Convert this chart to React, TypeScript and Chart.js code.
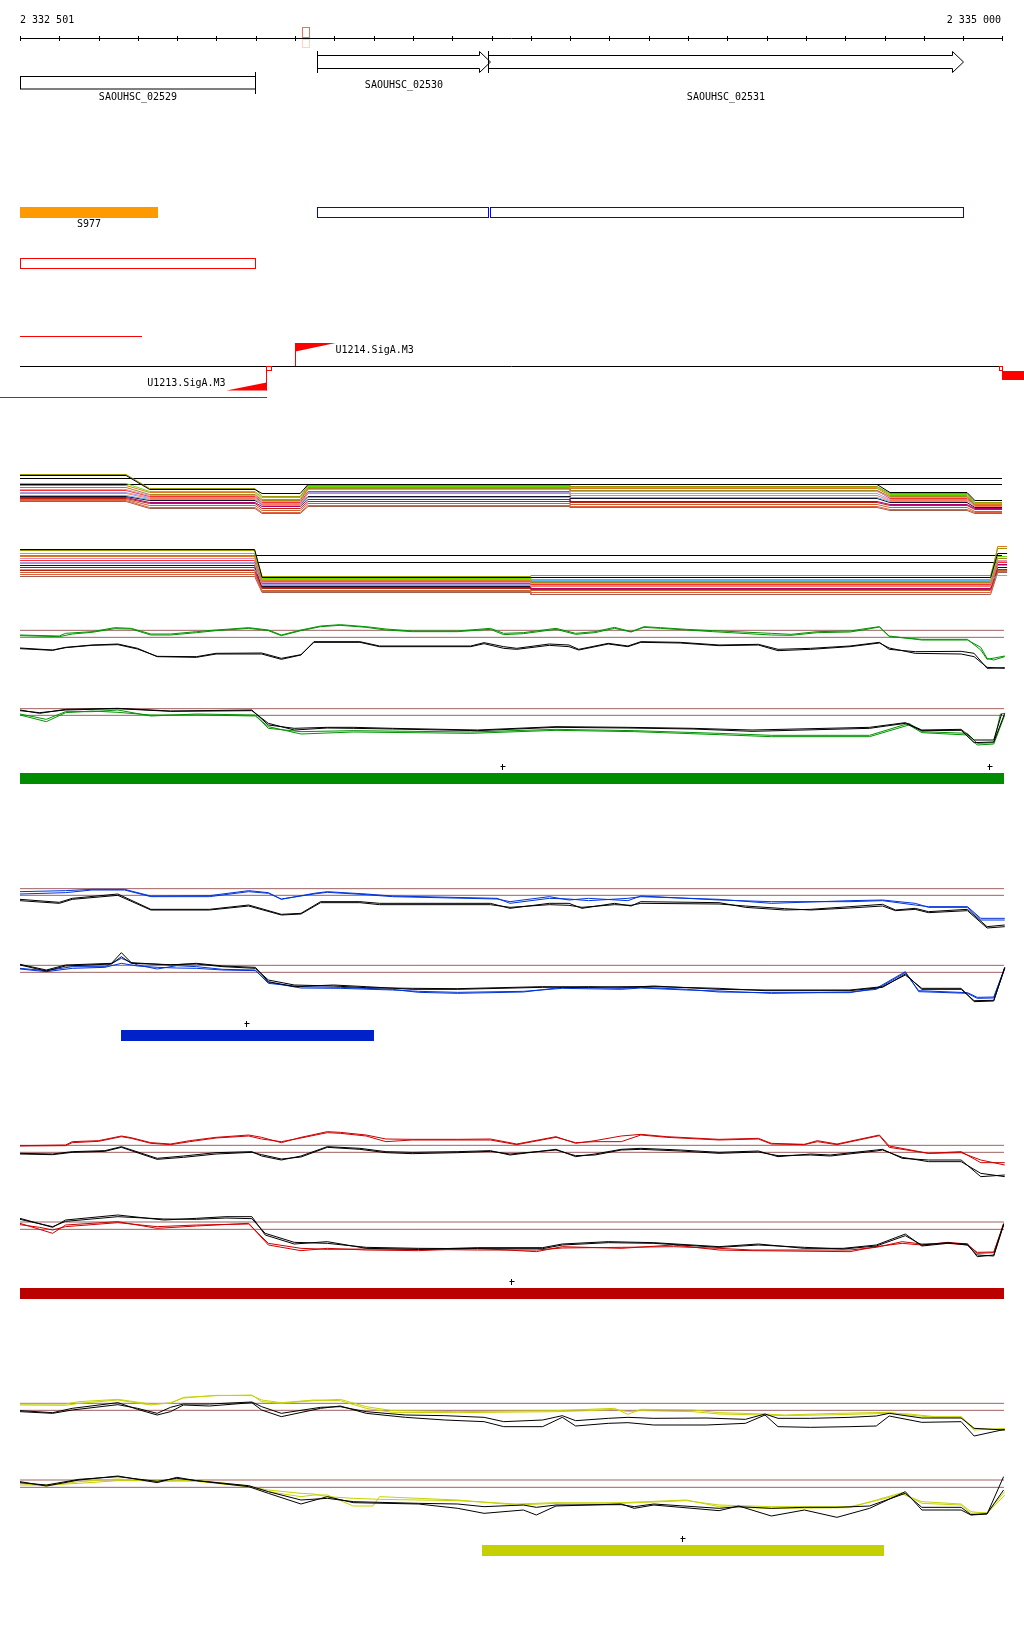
import React, { useEffect, useRef } from "react";
import { Chart, registerables } from "chart.js";

Chart.register(...registerables);

// ================= DATA =================
const REGION_START = 2332501;
const REGION_END = 2335000;
const RULER_STEP = 100;
const RULER_LABELS = ["2 332 501", "2 335 000"];
const MARKER_RANGE = [2333219, 2333236];

const GENE_NAMES = ["SAOUHSC_02529", "SAOUHSC_02530", "SAOUHSC_02531"];
const GENE_STARTS = [2332501, 2333257, 2333692];
const GENE_ENDS = [2333098, 2333698, 2334901];
const GENE_ARROW = [false, true, true];

const SRNA_NAME = "S977";
const SRNA_RANGE = [2332501, 2332852];
const CDS_STARTS = [2333257, 2333697];
const CDS_ENDS = [2333692, 2334901];
const UTR_RANGE = [2332501, 2333098];
const TRANSCRIPT_FWD = [2332501, 2332811];
const TRANSCRIPT_REV = [2332450, 2333126];
const PROMOTER_NAMES = ["U1214.SigA.M3", "U1213.SigA.M3"];
const PROMOTER_POS = [2333202, 2333126];
const PROMOTER_STRAND = [1, -1];
const PROMOTER_FLAG_BP = 100;
const TSS_BOX_STARTS = [2333126, 2334992];
const TSS_BOX_ENDS = [2333141, 2335000];
const RIGHT_BLOCK = [2335001, 2335060];

// multi-sample tracks (offsets in bp from REGION_START)
const TRACK_A_SEGMENTS = [[0, 270], [330, 598], [616, 713], [733, 1400], [1400, 2181], [2214, 2410], [2430, 2499]];
const TRACK_A_LEVELS = [
  [45, 31, 27, 36, 36, 28, 20],
  [46, 32, 24, 35, 34, 27, 18],
  [37, 29, 23, 34, 33, 26, 17],
  [35, 28, 21, 33, 32, 25, 16],
  [33, 26, 20, 32, 30, 24, 15],
  [31, 25, 19, 31, 29, 23, 17],
  [30, 24, 18, 29, 30, 22, 16],
  [28, 23, 17, 28, 27, 21, 15],
  [27, 22, 16, 27, 25, 20, 14],
  [25, 21, 15, 23, 23, 19, 20],
  [24, 20, 16, 24, 22, 18, 13],
  [23, 18, 14, 21, 19, 16, 12],
  [22, 17, 12, 19, 18, 15, 11],
  [21, 15, 10, 17, 16, 13, 9],
  [20, 13, 8, 15, 14, 11, 8],
  [19, 12, 7, 14, 13, 10, 7],
];
const TRACK_A_THRESH = [42, 36];

const TRACK_B_SEGMENTS = [[0, 597], [616, 1300], [1300, 2470], [2488, 2512]];
const TRACK_B_LEVELS = [
  [51, 23, 23, 47],
  [50, 24, 25, 52],
  [47, 22, 21, 44],
  [44, 20, 19, 54],
  [45, 19, 18, 42],
  [42, 18, 17, 40],
  [40, 17, 16, 38],
  [38, 16, 15, 39],
  [37, 15, 14, 35],
  [31, 21, 20, 25],
  [35, 14, 15, 33],
  [33, 13, 12, 36],
  [30, 12, 11, 31],
  [28, 10, 10, 30],
  [26, 9, 8, 29],
  [24, 8, 6, 28],
];
const TRACK_B_THRESH = [45, 38];
const SAMPLE_COLORS = ["#000000", "#9a9a00", "#66dd00", "#e07a20", "#a08a20", "#e090c0", "#ff3030", "#a8a0e0", "#ff8060", "#60b8f0", "#101030", "#b00070", "#c02010", "#c86430", "#e06040", "#a06050"];

// ---- green condition ----
const GREEN_UP_1 = [[0,12.5],[100,12.2],[116,13.0],[183,13.5],[241,14.7],[283,14.5],[333,12.8],[383,12.8],[449,13.5],[499,14.0],[582,14.7],[632,14.0],[665,12.5],[715,14.0],[765,15.2],[815,15.6],[881,15.0],[931,14.3],[998,13.7],[1114,13.7],[1197,14.5],[1231,13.0],[1281,13.2],[1364,14.5],[1414,13.0],[1463,13.5],[1513,14.8],[1555,13.5],[1588,15.0],[1630,14.7],[1696,14.2],[1763,13.8],[1912,13.0],[1962,12.7],[2029,13.5],[2112,13.7],[2145,14.3],[2187,15.0],[2212,12.0],[2295,11.2],[2411,11.2],[2445,8.0],[2461,5.2],[2506,6.2]];
const GREEN_UP_2 = [[0,12.3],[100,12.0],[133,12.8],[183,13.3],[241,14.4],[283,14.3],[333,12.5],[383,12.5],[449,13.2],[499,13.8],[582,14.5],[632,13.8],[665,12.3],[715,13.8],[765,15.0],[815,15.4],[881,14.8],[931,14.0],[998,13.5],[1114,13.5],[1197,14.2],[1231,12.6],[1281,12.9],[1364,14.2],[1414,12.7],[1463,13.2],[1513,14.5],[1555,13.4],[1588,14.8],[1630,14.5],[1696,14.0],[1763,13.5],[1912,12.5],[1962,12.4],[2029,13.2],[2112,13.4],[2145,14.0],[2187,14.9],[2212,12.2],[2295,11.0],[2411,11.0],[2445,8.8],[2461,5.5],[2478,5.0],[2506,6.0]];
const GREEN_UP_REF_1 = [[0,8.6],[83,8.0],[116,8.8],[183,9.5],[249,9.8],[299,8.5],[349,6.0],[449,5.8],[499,6.8],[615,6.8],[665,5.2],[715,6.5],[748,10.5],[865,10.5],[915,9.2],[1147,9.2],[1181,10.2],[1231,9.0],[1264,8.5],[1347,9.8],[1397,9.5],[1422,8.2],[1497,10.0],[1547,9.2],[1580,10.5],[1680,10.3],[1779,9.5],[1879,9.7],[1929,8.2],[2012,8.5],[2112,9.2],[2187,10.3],[2212,8.2],[2278,7.5],[2395,7.6],[2428,7.0],[2461,2.5],[2506,2.7]];
const GREEN_UP_REF_2 = [[0,8.4],[83,7.9],[116,8.7],[183,9.4],[249,9.6],[299,8.3],[349,6.1],[449,6.0],[499,7.0],[615,7.1],[665,5.5],[715,6.6],[748,10.3],[865,10.3],[915,9.0],[1147,9.0],[1181,9.9],[1231,8.5],[1264,8.2],[1347,9.4],[1397,9.0],[1422,8.0],[1497,9.8],[1547,9.0],[1580,10.3],[1680,10.1],[1779,9.3],[1879,9.5],[1929,7.8],[2012,8.2],[2112,9.0],[2187,10.1],[2212,8.6],[2278,7.0],[2395,6.8],[2428,6.0],[2461,2.8],[2506,2.5]];
const GREEN_LO_1 = [[0,13.8],[67,12.2],[116,14.5],[183,14.5],[249,15.0],[333,13.2],[449,13.8],[599,13.5],[632,9.5],[715,8.5],[848,8.8],[1147,8.4],[1364,9.2],[1563,8.8],[1779,8.0],[1912,7.4],[2162,7.4],[2262,11.0],[2295,8.5],[2411,8.0],[2436,5.0],[2478,5.2],[2495,13.8],[2506,14.0]];
const GREEN_LO_2 = [[0,13.5],[67,11.5],[116,14.2],[183,14.7],[249,14.3],[333,13.5],[449,13.5],[599,13.2],[632,10.0],[715,7.8],[848,8.4],[1147,8.0],[1364,8.9],[1563,8.5],[1779,7.6],[1912,7.0],[2162,7.0],[2262,10.5],[2295,8.2],[2411,7.5],[2436,4.5],[2478,4.8],[2506,13.5]];
const GREEN_LO_REF_1 = [[0,15.0],[50,14.0],[116,15.2],[249,15.5],[383,14.7],[590,15.0],[632,10.5],[698,9.5],[782,9.8],[848,9.8],[948,9.5],[1164,9.0],[1364,10.0],[1547,9.8],[1713,9.5],[1863,9.0],[2162,9.8],[2253,11.2],[2295,9.0],[2395,9.2],[2428,6.0],[2478,6.0],[2498,13.8]];
const GREEN_LO_REF_2 = [[0,14.8],[50,14.2],[116,15.0],[249,15.4],[383,14.6],[590,14.8],[632,11.0],[698,9.0],[782,9.6],[848,9.5],[948,9.3],[1164,8.8],[1364,9.8],[1547,9.6],[1713,9.3],[1863,8.6],[2162,9.5],[2253,11.0],[2295,8.8],[2395,8.9],[2428,5.2],[2478,5.4],[2506,14.0]];
const GREEN_THRESH_UP = [13.9, 11.8];
const GREEN_THRESH_LO = [15.4, 13.4];
const GREEN_BAR = [2332501, 2335005];
const GREEN_PLUS = [2333728, 2334967];

// ---- blue condition ----
const BLUE_UP_1 = [[0,13.5],[116,13.8],[183,14.2],[266,14.2],[333,12.2],[482,12.3],[582,13.8],[632,13.2],[665,11.2],[748,13.0],[782,13.5],[881,12.8],[948,12.2],[1214,11.5],[1247,10.0],[1347,11.5],[1397,11.3],[1447,10.8],[1547,11.5],[1580,12.0],[1779,11.2],[1912,10.0],[2112,10.8],[2195,11.0],[2278,10.0],[2312,8.8],[2411,8.8],[2445,5.0],[2506,5.0]];
const BLUE_UP_2 = [[0,12.8],[116,13.2],[183,14.0],[266,14.0],[333,12.0],[482,12.0],[582,13.5],[632,13.0],[665,11.3],[748,12.8],[782,13.3],[881,12.6],[948,12.0],[1214,11.3],[1247,10.5],[1347,12.0],[1397,11.0],[1447,11.5],[1547,10.8],[1580,12.2],[1779,11.0],[1912,10.5],[2112,10.5],[2195,10.8],[2278,9.5],[2312,9.0],[2411,9.0],[2445,5.5],[2506,5.5]];
const BLUE_UP_REF_1 = [[0,11.2],[100,10.3],[133,11.5],[249,12.8],[333,8.2],[482,8.2],[582,9.5],[665,6.7],[715,7.0],[765,10.5],[865,10.5],[915,10.0],[1197,10.0],[1247,8.5],[1347,10.0],[1397,10.0],[1430,8.5],[1513,10.0],[1555,9.2],[1580,10.5],[1779,10.2],[1846,8.8],[1946,8.0],[2012,8.2],[2112,9.0],[2195,9.7],[2228,8.0],[2278,8.5],[2312,7.5],[2411,8.2],[2461,3.0],[2506,3.5]];
const BLUE_UP_REF_2 = [[0,10.8],[100,10.0],[133,11.2],[249,12.4],[333,8.0],[482,8.0],[582,9.2],[665,6.5],[715,6.8],[765,10.2],[865,10.2],[915,9.6],[1197,9.6],[1247,8.8],[1347,9.6],[1397,9.4],[1430,8.8],[1513,9.6],[1555,9.4],[1580,10.0],[1779,9.8],[1846,9.2],[1946,8.4],[2012,8.0],[2112,8.6],[2195,9.2],[2228,7.8],[2278,8.2],[2312,7.2],[2411,7.8],[2461,2.6],[2506,3.0]];
const BLUE_LO_1 = [[0,15.5],[67,14.8],[133,16.0],[216,16.0],[258,18.5],[299,16.5],[349,15.3],[399,16.3],[449,16.0],[516,15.2],[599,15.0],[632,11.0],[715,10.0],[815,9.8],[948,9.2],[1014,8.3],[1114,8.0],[1281,8.4],[1380,9.8],[1530,9.5],[1580,9.8],[1696,9.2],[1779,8.4],[1912,8.2],[2112,8.2],[2179,9.5],[2253,14.5],[2287,8.5],[2411,8.0],[2436,6.5],[2478,6.6],[2506,15.8]];
const BLUE_LO_2 = [[0,15.3],[67,14.5],[133,15.5],[216,15.8],[258,17.0],[299,16.2],[349,15.8],[399,15.6],[449,15.5],[516,15.0],[599,14.8],[632,11.3],[715,9.6],[815,9.5],[948,9.0],[1014,8.6],[1114,8.3],[1281,8.6],[1380,9.5],[1530,9.2],[1580,9.6],[1696,9.0],[1779,8.7],[1912,8.0],[2112,8.4],[2179,9.2],[2253,14.2],[2287,8.8],[2411,8.2],[2436,6.8],[2478,6.9],[2506,15.6]];
const BLUE_LO_REF_1 = [[0,16.7],[67,15.0],[116,16.5],[233,17.0],[258,20.2],[283,17.2],[383,16.5],[449,17.0],[516,16.2],[599,15.8],[632,11.5],[698,10.0],[798,10.5],[881,10.0],[998,9.2],[1114,9.2],[1330,9.8],[1447,10.0],[1547,9.8],[1613,10.2],[1779,9.2],[1896,9.0],[2112,9.0],[2195,10.0],[2253,13.5],[2295,9.5],[2395,9.5],[2428,5.5],[2478,5.7],[2506,15.8]];
const BLUE_LO_REF_2 = [[0,16.5],[67,14.7],[116,16.2],[233,16.8],[258,19.0],[283,17.0],[383,16.6],[449,16.8],[516,16.0],[599,15.5],[632,12.0],[698,10.5],[798,10.2],[881,9.7],[998,9.5],[1114,9.4],[1330,10.0],[1447,9.8],[1547,10.0],[1613,10.0],[1779,9.5],[1896,8.8],[2112,8.8],[2195,9.8],[2253,13.8],[2295,9.2],[2395,9.2],[2428,5.8],[2478,5.9],[2506,15.5]];
const BLUE_THRESH_UP = [14.4, 12.4];
const BLUE_THRESH_LO = [16.4, 14.3];
const BLUE_BAR = [2332758, 2333402];
const BLUE_PLUS = [2333077];

// ---- red condition ----
const RED_UP_1 = [[0,12.3],[116,12.5],[133,13.5],[200,13.8],[258,15.2],[283,14.7],[333,13.2],[383,12.8],[432,13.8],[499,14.8],[582,15.5],[615,14.8],[665,13.2],[715,14.8],[782,16.5],[815,16.3],[881,15.5],[931,14.3],[998,14.2],[1114,14.2],[1197,14.3],[1264,12.8],[1364,15.0],[1414,13.0],[1463,13.8],[1530,15.2],[1580,15.7],[1646,15.0],[1779,14.2],[1879,14.5],[1912,13.0],[1996,12.7],[2029,13.8],[2079,12.8],[2187,15.5],[2212,12.2],[2312,10.0],[2395,10.5],[2445,7.2],[2506,7.2]];
const RED_UP_2 = [[0,12.2],[116,12.3],[133,13.2],[200,13.6],[258,15.0],[283,14.5],[333,13.0],[383,12.6],[432,13.5],[499,14.6],[582,15.2],[615,14.3],[665,13.5],[715,14.6],[782,16.2],[815,16.0],[881,15.2],[931,13.5],[998,14.0],[1114,14.0],[1197,14.0],[1264,12.6],[1364,14.8],[1414,13.2],[1463,13.5],[1530,13.5],[1580,15.5],[1646,14.8],[1779,14.0],[1879,14.3],[1912,12.8],[1996,12.6],[2029,13.5],[2079,12.6],[2187,15.3],[2212,11.8],[2312,10.0],[2395,10.2],[2445,8.0],[2506,6.5]];
const RED_UP_REF_1 = [[0,10.0],[83,9.8],[133,10.5],[216,10.8],[258,12.0],[349,8.5],[416,9.2],[499,10.2],[590,10.5],[615,9.2],[665,8.0],[715,9.2],[782,12.0],[865,11.5],[931,10.5],[998,10.3],[1114,10.5],[1197,10.8],[1247,9.5],[1364,11.2],[1414,9.0],[1463,9.8],[1530,11.2],[1580,11.5],[1680,11.0],[1779,10.3],[1879,10.7],[1929,9.0],[2012,9.8],[2062,9.5],[2179,11.0],[2195,11.2],[2245,8.5],[2312,8.0],[2395,8.0],[2445,3.0],[2506,3.5]];
const RED_UP_REF_2 = [[0,9.8],[83,9.6],[133,10.3],[216,10.6],[258,11.8],[349,8.2],[416,8.8],[499,9.8],[590,10.3],[615,9.6],[665,8.3],[715,8.9],[782,11.8],[865,11.2],[931,10.2],[998,9.9],[1114,10.2],[1197,10.6],[1247,9.8],[1364,11.0],[1414,9.3],[1463,9.5],[1530,11.0],[1580,11.2],[1680,10.7],[1779,10.0],[1879,10.4],[1929,9.3],[2012,9.5],[2062,9.2],[2179,10.7],[2195,11.0],[2245,8.8],[2312,7.5],[2395,7.5],[2445,4.0],[2506,3.0]];
const RED_LO_1 = [[0,14.0],[83,11.0],[116,13.5],[249,14.5],[349,12.5],[449,13.2],[582,14.0],[632,7.5],[715,5.8],[782,6.5],[881,6.0],[1014,5.8],[1164,6.5],[1314,5.5],[1380,7.0],[1530,6.5],[1663,7.5],[1779,6.0],[1863,5.8],[2112,5.5],[2179,7.0],[2245,8.0],[2295,7.5],[2361,8.3],[2411,7.8],[2436,5.0],[2478,5.2],[2503,14.0]];
const RED_LO_2 = [[0,13.6],[50,12.8],[83,12.0],[116,13.0],[249,14.2],[349,13.0],[449,13.5],[582,13.8],[632,8.0],[715,6.5],[782,6.2],[881,6.3],[1014,6.2],[1164,6.0],[1314,6.0],[1380,6.6],[1530,6.8],[1663,7.0],[1779,6.5],[1863,6.0],[2112,6.0],[2179,6.8],[2245,8.5],[2295,7.8],[2361,8.0],[2411,7.5],[2436,5.3],[2478,5.4],[2503,13.5]];
const RED_LO_REF_1 = [[0,15.5],[83,12.8],[116,15.0],[249,16.5],[366,15.0],[449,15.5],[524,16.0],[590,16.0],[624,10.5],[698,7.8],[782,8.5],[881,6.5],[1014,6.2],[1164,6.7],[1330,6.7],[1380,7.8],[1497,8.5],[1613,8.2],[1779,7.0],[1879,7.8],[1996,6.5],[2095,6.5],[2179,7.5],[2253,10.8],[2295,7.2],[2361,8.0],[2411,7.8],[2436,4.0],[2478,4.5],[2503,13.8]];
const RED_LO_REF_2 = [[0,15.2],[83,13.0],[116,14.6],[249,16.0],[366,15.3],[449,15.2],[524,15.6],[590,15.4],[624,11.0],[698,8.3],[782,8.0],[881,6.8],[1014,6.5],[1164,6.4],[1330,6.4],[1380,7.5],[1497,8.2],[1613,8.0],[1779,6.8],[1879,7.5],[1996,6.8],[2095,6.3],[2179,7.2],[2253,10.3],[2295,7.5],[2361,8.2],[2411,7.5],[2436,4.5],[2478,4.2],[2503,13.5]];
const RED_THRESH_UP = [12.4, 10.3];
const RED_THRESH_LO = [14.4, 12.2];
const RED_BAR = [2332501, 2335005];
const RED_PLUS = [2333750];

// ---- yellow condition ----
const YELLOW_UP_1 = [[0,12.8],[116,12.8],[150,13.5],[249,14.2],[333,12.8],[383,13.0],[416,14.8],[499,15.3],[590,15.5],[615,13.5],[665,13.0],[748,13.8],[815,14.2],[881,12.0],[948,10.8],[1114,10.5],[1364,10.8],[1447,11.2],[1513,11.5],[1547,9.7],[1580,11.2],[1713,11.0],[1779,10.2],[1896,9.8],[1946,9.5],[2079,10.0],[2212,10.3],[2262,9.5],[2328,8.8],[2395,8.8],[2428,5.0],[2506,5.5]];
const YELLOW_UP_2 = [[0,12.5],[116,12.4],[150,13.0],[249,14.0],[333,12.5],[383,13.2],[416,14.6],[499,15.4],[590,15.3],[615,14.0],[665,13.2],[748,14.0],[815,13.8],[881,11.5],[948,10.3],[1114,10.2],[1364,10.5],[1447,10.8],[1513,11.2],[1547,10.5],[1580,10.8],[1713,10.5],[1779,9.8],[1896,9.5],[1946,9.3],[2079,9.6],[2212,10.0],[2262,9.8],[2328,9.0],[2395,9.0],[2428,5.5],[2506,5.0]];
const YELLOW_UP_REF_1 = [[0,10.8],[83,10.2],[133,11.5],[249,13.2],[299,11.2],[349,9.5],[383,10.5],[416,12.5],[482,12.2],[590,13.2],[615,11.0],[665,9.0],[765,11.5],[815,12.2],[881,10.0],[981,8.8],[1081,8.0],[1181,7.5],[1231,6.0],[1330,6.0],[1380,8.8],[1414,6.2],[1497,7.0],[1547,7.2],[1613,6.5],[1746,6.5],[1846,7.0],[1896,9.5],[1929,6.0],[2012,5.8],[2112,6.0],[2179,6.2],[2212,9.2],[2295,7.3],[2395,7.5],[2428,3.2],[2506,5.2]];
const YELLOW_UP_REF_2 = [[0,10.5],[83,10.0],[133,11.0],[249,12.6],[299,11.5],[349,10.0],[383,11.8],[416,12.8],[482,12.8],[590,13.4],[615,12.0],[665,10.0],[765,11.8],[815,12.0],[881,10.5],[981,9.5],[1081,9.3],[1181,8.8],[1231,7.5],[1330,8.0],[1380,9.3],[1414,7.8],[1497,8.5],[1547,8.8],[1613,8.5],[1746,8.6],[1846,8.2],[1896,9.8],[1929,8.5],[2012,8.5],[2112,8.8],[2179,9.2],[2212,10.0],[2295,8.6],[2395,8.6],[2428,5.5],[2506,5.0]];
const YELLOW_LO_1 = [[0,14.0],[67,13.2],[150,14.5],[249,15.3],[349,14.5],[449,15.0],[582,13.2],[632,11.5],[715,10.0],[748,10.5],[782,10.5],[848,7.2],[898,7.2],[915,10.0],[1114,9.0],[1264,7.5],[1364,8.0],[1530,8.2],[1696,9.0],[1779,7.0],[1912,6.5],[2112,6.7],[2179,9.0],[2245,11.2],[2295,8.0],[2395,7.5],[2420,5.0],[2461,5.2],[2506,11.5]];
const YELLOW_LO_2 = [[0,13.5],[67,13.5],[150,14.0],[249,14.8],[349,14.8],[449,14.6],[582,13.0],[632,12.0],[715,11.0],[748,10.8],[782,10.0],[848,9.5],[898,9.3],[915,9.2],[1114,8.8],[1264,7.8],[1364,8.2],[1530,8.0],[1696,8.8],[1779,7.5],[1912,7.0],[2112,7.0],[2179,8.8],[2245,10.8],[2295,8.5],[2395,7.8],[2420,5.5],[2461,5.0],[2506,10.5]];
const YELLOW_LO_REF_1 = [[0,14.5],[67,13.2],[150,15.0],[249,16.2],[349,14.2],[399,15.8],[449,14.8],[582,13.0],[632,11.0],[715,7.8],[782,10.0],[848,8.2],[1014,7.8],[1114,6.5],[1181,5.0],[1281,6.0],[1314,4.5],[1364,7.2],[1530,7.8],[1563,6.5],[1613,7.5],[1779,5.8],[1829,7.2],[1912,4.2],[1996,6.0],[2079,3.8],[2162,6.5],[2253,11.5],[2295,6.0],[2395,6.0],[2420,4.5],[2461,4.8],[2503,16.0]];
const YELLOW_LO_REF_2 = [[0,14.2],[67,13.5],[150,15.2],[249,16.0],[349,14.6],[399,15.5],[449,14.8],[582,13.3],[632,11.5],[715,9.0],[782,9.5],[848,8.5],[1014,8.0],[1114,7.8],[1181,7.0],[1281,7.5],[1314,6.8],[1364,7.5],[1530,7.6],[1563,7.0],[1613,7.8],[1779,6.5],[1829,7.0],[1912,6.5],[1996,6.8],[2079,6.8],[2162,7.2],[2253,11.0],[2295,6.8],[2395,6.8],[2420,4.6],[2461,4.9],[2503,12.0]];
const YELLOW_THRESH_UP = [13.0, 10.9];
const YELLOW_THRESH_LO = [15.0, 12.8];
const YELLOW_BAR = [2333677, 2334700];
const YELLOW_PLUS = [2334185];

const THRESH_SPAN = [0, 2504];

// ================= LAYOUT / STYLE =================
const W = 1024;
const H = 1640;
const LEFT_PX = 20;
const PX_PER_BP = 0.39296;
const XMIN = REGION_START - LEFT_PX / PX_PER_BP;
const XMAX = XMIN + W / PX_PER_BP;
const FONT = '10px "DejaVu Sans Mono", "Liberation Mono", monospace';
const BROWN = "#a06262";

function axisRange(v1: number, p1: number, v2: number, p2: number) {
  const k = (p2 - p1) / (v1 - v2);
  const max = v1 + p1 / k;
  return { min: max - H / k, max };
}

function pts(arr: number[][]) {
  return arr.map(([b, v]) => ({ x: REGION_START + b, y: v }));
}

function holdLevels(segments: number[][], levels: number[]) {
  const out: number[][] = [];
  segments.forEach((s, i) => {
    out.push([s[0], levels[i]]);
    out.push([s[1], levels[i]]);
  });
  return out;
}

function lineDs(arr: number[][], axis: string, color: string, width = 1) {
  return {
    data: pts(arr),
    yAxisID: axis,
    borderColor: color,
    backgroundColor: color,
    borderWidth: width,
    pointRadius: 0,
    tension: 0,
    fill: false,
  };
}

const GROUPS = [
  { color: "#009400", bar: "#008c00", top: 610, barTop: 773, up: [GREEN_UP_1, GREEN_UP_2], upRef: [GREEN_UP_REF_1, GREEN_UP_REF_2], lo: [GREEN_LO_1, GREEN_LO_2], loRef: [GREEN_LO_REF_1, GREEN_LO_REF_2], thUp: GREEN_THRESH_UP, thLo: GREEN_THRESH_LO, range: GREEN_BAR, plus: GREEN_PLUS },
  { color: "#0033dd", bar: "#0022c8", top: 870, barTop: 1030, up: [BLUE_UP_1, BLUE_UP_2], upRef: [BLUE_UP_REF_1, BLUE_UP_REF_2], lo: [BLUE_LO_1, BLUE_LO_2], loRef: [BLUE_LO_REF_1, BLUE_LO_REF_2], thUp: BLUE_THRESH_UP, thLo: BLUE_THRESH_LO, range: BLUE_BAR, plus: BLUE_PLUS },
  { color: "#cc0000", bar: "#bb0000", top: 1120, barTop: 1288, up: [RED_UP_1, RED_UP_2], upRef: [RED_UP_REF_1, RED_UP_REF_2], lo: [RED_LO_1, RED_LO_2], loRef: [RED_LO_REF_1, RED_LO_REF_2], thUp: RED_THRESH_UP, thLo: RED_THRESH_LO, range: RED_BAR, plus: RED_PLUS },
  { color: "#c6d200", bar: "#c4d000", top: 1380, barTop: 1545, up: [YELLOW_UP_1, YELLOW_UP_2], upRef: [YELLOW_UP_REF_1, YELLOW_UP_REF_2], lo: [YELLOW_LO_1, YELLOW_LO_2], loRef: [YELLOW_LO_REF_1, YELLOW_LO_REF_2], thUp: YELLOW_THRESH_UP, thLo: YELLOW_THRESH_LO, range: YELLOW_BAR, plus: YELLOW_PLUS },
];

function buildConfig() {
  const scales: any = {
    x: { type: "linear", min: XMIN, max: XMAX, display: false },
    yA: { type: "linear", display: false, ...axisRange(45, 475.5, 0, 520.5) },
    yB: { type: "linear", display: false, ...axisRange(50, 550.5, 0, 600.5) },
  };
  const datasets: any[] = [];

  GROUPS.forEach((g, gi) => {
    const up = "u" + gi;
    const lo = "l" + gi;
    scales[up] = { type: "linear", display: false, ...axisRange(20, g.top, 0, g.top + 200 / 3) };
    scales[lo] = { type: "linear", display: false, ...axisRange(45, g.top, 0, g.top + 150) };
    g.upRef.forEach((s) => datasets.push(lineDs(s, up, "#000000")));
    g.up.forEach((s) => datasets.push(lineDs(s, up, g.color)));
    g.loRef.forEach((s) => datasets.push(lineDs(s, lo, "#000000")));
    g.lo.forEach((s) => datasets.push(lineDs(s, lo, g.color)));
    g.thUp.forEach((t) => datasets.push(lineDs([[THRESH_SPAN[0], t], [THRESH_SPAN[1], t]], up, BROWN)));
    g.thLo.forEach((t) => datasets.push(lineDs([[THRESH_SPAN[0], t], [THRESH_SPAN[1], t]], lo, BROWN)));
  });

  TRACK_A_LEVELS.forEach((lv, i) => datasets.push(lineDs(holdLevels(TRACK_A_SEGMENTS, lv), "yA", SAMPLE_COLORS[i])));
  TRACK_B_LEVELS.forEach((lv, i) => datasets.push(lineDs(holdLevels(TRACK_B_SEGMENTS, lv), "yB", SAMPLE_COLORS[i])));
  TRACK_A_THRESH.forEach((t) => datasets.push(lineDs([[0, t], [2499, t]], "yA", "#000000")));
  TRACK_B_THRESH.forEach((t) => datasets.push(lineDs([[0, t], [2499, t]], "yB", "#000000")));

  return { scales, datasets };
}

const annotationPlugin = {
  id: "genomeAnnotations",
  afterDatasetsDraw(chart: any) {
    const ctx: CanvasRenderingContext2D = chart.ctx;
    const xs = chart.scales.x;
    const X = (bp: number) => Math.round(xs.getPixelForValue(bp));
    const hline = (x0: number, x1: number, y: number) => {
      ctx.beginPath();
      ctx.moveTo(x0, y);
      ctx.lineTo(x1, y);
      ctx.stroke();
    };
    const vline = (x: number, y0: number, y1: number) => {
      ctx.beginPath();
      ctx.moveTo(x, y0);
      ctx.lineTo(x, y1);
      ctx.stroke();
    };
    ctx.save();
    ctx.lineWidth = 1;
    ctx.font = FONT;
    ctx.textBaseline = "middle";

    // ruler
    ctx.strokeStyle = "#000";
    ctx.fillStyle = "#000";
    hline(X(REGION_START), X(REGION_END) + 1, 38.5);
    for (let p = REGION_START; p <= REGION_END + 1; p += RULER_STEP) vline(X(p) + 0.5, 36, 41);
    ctx.textAlign = "left";
    ctx.fillText(RULER_LABELS[0], X(REGION_START), 20.5);
    ctx.textAlign = "right";
    ctx.fillText(RULER_LABELS[1], X(REGION_END) - 1, 20.5);
    // marker
    ctx.strokeStyle = "#f07050";
    ctx.strokeRect(X(MARKER_RANGE[0]) + 0.5, 27.5, X(MARKER_RANGE[1]) - X(MARKER_RANGE[0]), 10);
    ctx.strokeStyle = "#ffd4c4";
    ctx.strokeRect(X(MARKER_RANGE[0]) + 0.5, 39.5, X(MARKER_RANGE[1]) - X(MARKER_RANGE[0]), 8);

    // genes
    ctx.strokeStyle = "#000";
    ctx.fillStyle = "#000";
    ctx.textAlign = "center";
    const labelY = [97, 85, 97];
    GENE_NAMES.forEach((name, i) => {
      const x0 = X(GENE_STARTS[i]) + 0.5;
      const x1 = X(GENE_ENDS[i]) + 0.5;
      if (GENE_ARROW[i]) {
        const hx = x1 - 11;
        ctx.beginPath();
        ctx.moveTo(x0, 55.5);
        ctx.lineTo(hx, 55.5);
        ctx.lineTo(hx, 51.5);
        ctx.lineTo(x1, 62);
        ctx.lineTo(hx, 72.5);
        ctx.lineTo(hx, 68.5);
        ctx.lineTo(x0, 68.5);
        ctx.stroke();
        vline(x0, 51, 73);
      } else {
        ctx.strokeRect(x0, 76.5, x1 - x0, 12.5);
        vline(x1, 72, 94);
      }
      ctx.fillText(name, (x0 + x1) / 2, labelY[i]);
    });

    // sRNA
    ctx.fillStyle = "#ff9900";
    ctx.fillRect(X(SRNA_RANGE[0]), 207, X(SRNA_RANGE[1]) - X(SRNA_RANGE[0]), 11);
    ctx.fillStyle = "#000";
    ctx.fillText(SRNA_NAME, (X(SRNA_RANGE[0]) + X(SRNA_RANGE[1])) / 2, 224.5);
    // CDS boxes
    ctx.strokeStyle = "#0000ff";
    CDS_STARTS.forEach((s, i) => {
      ctx.strokeRect(X(s) + 0.5, 207.5, X(CDS_ENDS[i]) - X(s), 10);
    });
    // UTR box
    ctx.strokeStyle = "#ff0000";
    ctx.strokeRect(X(UTR_RANGE[0]) + 0.5, 258.5, X(UTR_RANGE[1]) - X(UTR_RANGE[0]), 10);
    hline(X(TRANSCRIPT_FWD[0]), X(TRANSCRIPT_FWD[1]), 336.5);

    // promoter axis
    ctx.strokeStyle = "#000";
    hline(X(REGION_START), X(REGION_END) + 1, 366.5);
    ctx.strokeStyle = "#ff0000";
    ctx.fillStyle = "#ff0000";
    PROMOTER_NAMES.forEach((name, i) => {
      const x = X(PROMOTER_POS[i]) + 0.5;
      const dir = PROMOTER_STRAND[i];
      const tip = X(PROMOTER_POS[i] + dir * PROMOTER_FLAG_BP) + 0.5;
      if (dir > 0) {
        vline(x, 343, 366);
        ctx.beginPath();
        ctx.moveTo(x, 343);
        ctx.lineTo(tip, 343);
        ctx.lineTo(x, 351.5);
        ctx.closePath();
        ctx.fill();
        ctx.fillStyle = "#000";
        ctx.textAlign = "left";
        ctx.fillText(name, tip, 350.5);
      } else {
        vline(x, 366, 390.5);
        ctx.beginPath();
        ctx.moveTo(x, 382.5);
        ctx.lineTo(x, 390.5);
        ctx.lineTo(tip, 390.5);
        ctx.closePath();
        ctx.fill();
        ctx.fillStyle = "#000";
        ctx.textAlign = "right";
        ctx.fillText(name, tip - 1, 383.5);
      }
      ctx.fillStyle = "#ff0000";
    });
    hline(X(TRANSCRIPT_REV[0]), X(TRANSCRIPT_REV[1]) + 1, 397.5);
    TSS_BOX_STARTS.forEach((s, i) => {
      ctx.strokeRect(X(s) + 0.5, 366.5, X(TSS_BOX_ENDS[i]) - X(s), 4);
    });
    ctx.fillRect(X(RIGHT_BLOCK[0]), 371, X(RIGHT_BLOCK[1]) - X(RIGHT_BLOCK[0]), 9);

    // expression bars and strand marks
    GROUPS.forEach((g) => {
      ctx.fillStyle = g.bar;
      ctx.fillRect(X(g.range[0]), g.barTop, X(g.range[1]) - X(g.range[0]), 11);
      ctx.strokeStyle = "#000";
      g.plus.forEach((p) => {
        const x = X(p) + 0.5;
        hline(x - 2, x + 3, g.barTop - 6.5);
        vline(x, g.barTop - 9, g.barTop - 3);
      });
    });
    ctx.restore();
  },
};

export default function App() {
  const canvasRef = useRef<HTMLCanvasElement | null>(null);
  useEffect(() => {
    if (!canvasRef.current) return;
    const { scales, datasets } = buildConfig();
    const chart = new Chart(canvasRef.current, {
      type: "line",
      data: { datasets },
      options: {
        responsive: false,
        animation: false,
        devicePixelRatio: 1,
        events: [],
        layout: { padding: 0 },
        plugins: { legend: { display: false }, tooltip: { enabled: false }, title: { display: false } },
        scales,
      },
      plugins: [annotationPlugin],
    } as any);
    return () => chart.destroy();
  }, []);
  return (
    <div style={{ position: "absolute", left: 0, top: 0, width: W, height: H, background: "#fff" }}>
      <canvas ref={canvasRef} width={W} height={H} style={{ width: W, height: H, display: "block" }} />
    </div>
  );
}
